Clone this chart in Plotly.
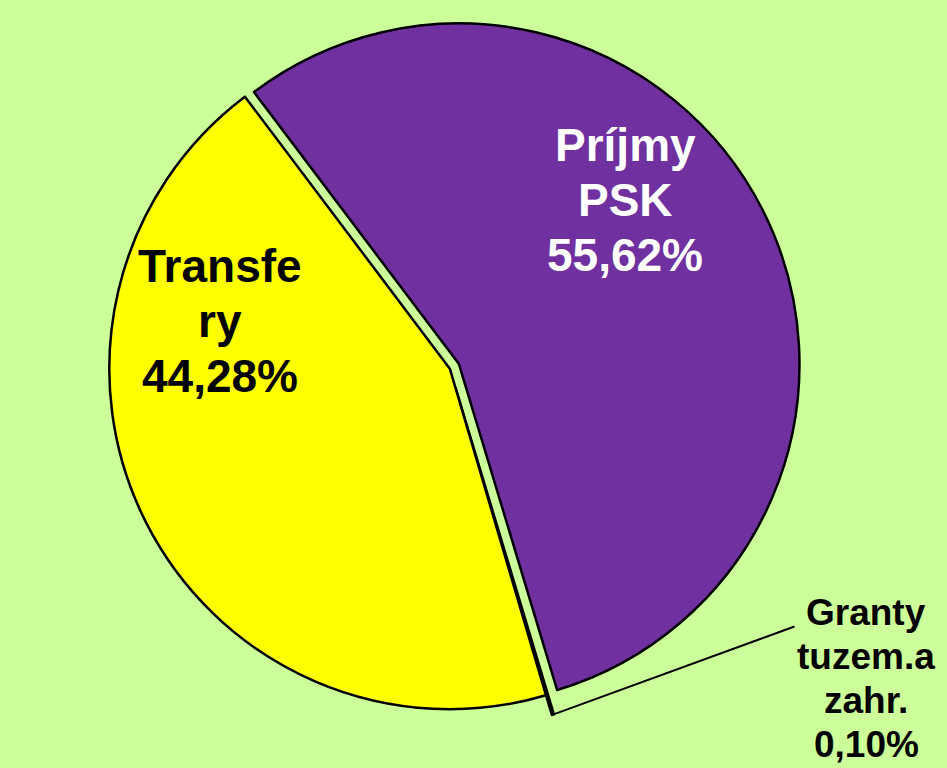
import math
import plotly.graph_objects as go

labels = ["Príjmy PSK", "Granty tuzem.a zahr.", "Transfery"]
values = [55.62, 0.10, 44.28]
colors = ["#7030a0", "#660000", "#ffff00"]
pulls = [0.03, 0.06, 0.0]

# label lines as shown on the chart
prijmy_lines = ["Príjmy", "PSK", "55,62%"]
transfery_lines = ["Transfe", "ry", "44,28%"]
granty_lines = ["Granty", "tuzem.a", "zahr.", "0,10%"]

W, H = 947, 768
dom_x = [0.0, 0.95]
dom_y = [0.05, 0.99]
rotation = -37
FONT = "Liberation Sans, Arial, sans-serif"

fig = go.Figure(go.Pie(
    labels=labels,
    values=values,
    textinfo="none",
    sort=False,
    direction="clockwise",
    rotation=rotation,
    pull=pulls,
    marker=dict(colors=colors, line=dict(color="black", width=2.5)),
    hoverinfo="label+percent",
    domain=dict(x=dom_x, y=dom_y),
    showlegend=False,
))


def add_lines(lines, x_px, y0_px, step, size, color):
    for i, t in enumerate(lines):
        fig.add_annotation(
            x=x_px / W, y=1 - (y0_px + i * step) / H,
            xref="paper", yref="paper", xanchor="center", yanchor="middle",
            text=t, showarrow=False,
            font=dict(family=FONT, size=size, color=color, weight="bold"),
        )


add_lines(prijmy_lines, 625, 145, 55, 46, "white")
add_lines(transfery_lines, 220, 266, 55, 46, "black")
add_lines(granty_lines, 866, 612, 44, 37, "black")

# leader line from the small slice (position derived from the values)
total = sum(values)
mid = math.radians(rotation + 360 * (values[0] + values[1] / 2) / total)
cx = (dom_x[0] + dom_x[1]) / 2 * W
cy = (1 - (dom_y[0] + dom_y[1]) / 2) * H
r = min((dom_x[1] - dom_x[0]) * W, (dom_y[1] - dom_y[0]) * H) / 2 / (1 + max(pulls))
rr = r * (1 + pulls[1])
tip_x = cx + rr * math.sin(mid)
tip_y = cy - rr * math.cos(mid)
line_end_x, line_end_y = 796, 626

fig.add_annotation(
    x=tip_x / W, y=1 - tip_y / H, xref="paper", yref="paper",
    ax=line_end_x - tip_x, ay=line_end_y - tip_y, axref="pixel", ayref="pixel",
    text="", showarrow=True, arrowhead=0, arrowwidth=2, arrowcolor="black",
)

fig.update_layout(
    width=W, height=H,
    margin=dict(l=0, r=0, t=0, b=0),
    paper_bgcolor="#ccff99",
    plot_bgcolor="#ccff99",
)

fig.write_html(
    "out.html",
    config={"displayModeBar": False},
    post_script="document.body.style.margin='0';document.body.style.background='#ccff99';",
)
